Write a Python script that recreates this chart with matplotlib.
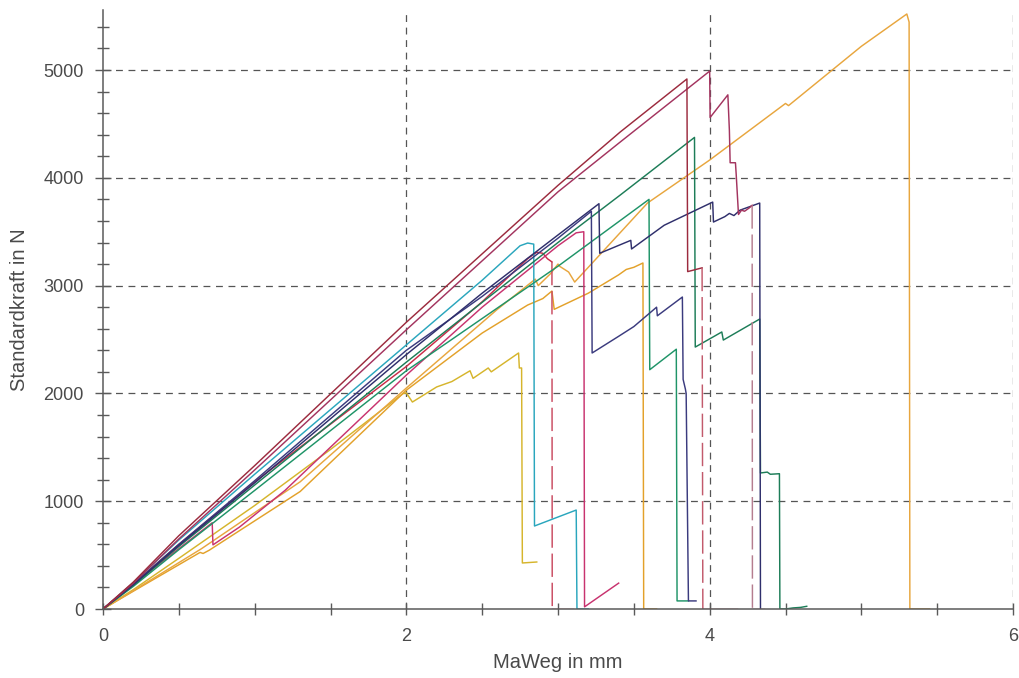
import matplotlib
matplotlib.use("Agg")
import matplotlib.pyplot as plt
from matplotlib.ticker import MultipleLocator

plt.rcParams["font.family"] = ["Liberation Sans", "DejaVu Sans"]

# Kraft-Weg-Kurven der einzelnen Proben: Weg in mm, Kraft in N
a_x = [0, 0.2, 0.5, 1.0, 2.0, 3.0, 3.41, 3.85, 3.855, 3.95]
a_y = [0, 250, 680, 1330, 2660, 3930, 4425, 4917, 3130, 3165]
a_brk_x = [3.95, 3.955]
a_brk_y = [3165, 0]
a_end_x = [3.955, 4.18]
a_end_y = [0, 0]

b_x = [0, 0.2, 0.5, 1.0, 2.0, 3.0, 3.41, 4.0, 4.003, 4.12, 4.13, 4.135, 4.17,
       4.175, 4.19, 4.21, 4.23, 4.26, 4.28]
b_y = [0, 240, 650, 1290, 2590, 3870, 4332, 4990, 4560, 4770, 4440, 4140, 4140,
       4030, 3660, 3700, 3690, 3720, 3745]
b_brk_x = [4.28, 4.282]
b_brk_y = [3745, 0]
b_end_x = [4.282, 4.36]
b_end_y = [0, 0]

c_x = [0, 0.2, 0.5, 1.0, 2.0, 3.0, 3.41, 3.90, 3.905, 4.08, 4.09, 4.33, 4.335,
       4.38, 4.40, 4.46, 4.463, 4.50, 4.55, 4.60, 4.64]
c_y = [0, 220, 580, 1150, 2290, 3400, 3840, 4375, 2430, 2570, 2495, 2690, 1262,
       1270, 1250, 1255, 0, 0, 10, 15, 25]

d_x = [0, 0.2, 0.5, 1.0, 2.0, 3.0, 3.60, 3.605, 3.78, 3.785, 3.86]
d_y = [0, 210, 550, 1100, 2210, 3180, 3800, 2220, 2410, 75, 75]

e_x = [0, 0.2, 0.5, 1.0, 2.0, 2.5, 3.0, 3.22, 3.225, 3.4, 3.5, 3.65, 3.655,
       3.82, 3.825, 3.84, 3.845, 3.86, 3.91]
e_y = [0, 230, 600, 1190, 2400, 2900, 3440, 3690, 2375, 2530, 2620, 2800, 2720,
       2894, 2130, 2040, 2000, 75, 75]

f_x = [0, 0.2, 0.5, 1.0, 2.0, 2.5, 3.0, 3.27, 3.275, 3.48, 3.485, 3.7, 4.02,
       4.025, 4.1, 4.13, 4.16, 4.2, 4.33, 4.335]
f_y = [0, 225, 590, 1170, 2360, 2930, 3470, 3760, 3300, 3420, 3340, 3560, 3775,
       3590, 3640, 3670, 3650, 3700, 3766, 0]

g_x = [0, 0.2, 0.5, 1.0, 2.0, 2.5, 2.75, 2.80, 2.84, 2.845, 3.12, 3.125, 3.2]
g_y = [0, 245, 640, 1250, 2450, 3050, 3370, 3395, 3385, 770, 918, 0, 0]

h_x = [0, 0.2, 0.5, 0.72, 0.725, 0.9, 1.2, 2.0, 2.5, 3.0, 3.12, 3.17, 3.175, 3.40]
h_y = [0, 230, 560, 800, 595, 760, 1100, 2170, 2800, 3370, 3490, 3500, 20, 240]

l_x = [0, 0.2, 0.5, 1.0, 2.0, 2.5, 2.8, 2.86, 2.9, 2.93, 2.96]
l_y = [0, 235, 600, 1180, 2250, 2850, 3250, 3310, 3300, 3250, 3220]
l_brk_x = [2.96, 2.962]
l_brk_y = [3220, 0]
l_end_x = [2.962, 3.1]
l_end_y = [0, 0]

i_x = [0, 0.2, 0.65, 1.3, 2.0, 2.6, 2.85, 2.87, 2.95, 3.0, 3.01, 3.07, 3.09,
       3.11, 3.59, 4.0, 4.5, 4.52, 5.0, 5.30, 5.315, 5.32, 5.45]
i_y = [0, 170, 560, 1180, 2050, 2780, 3060, 3000, 3110, 3200, 3180, 3126, 3080,
       3033, 3766, 4165, 4690, 4670, 5220, 5520, 5445, 0, 0]

j_x = [0, 0.2, 0.64, 0.66, 0.7, 1.3, 2.0, 2.5, 2.8, 2.9, 2.96, 2.975, 3.2, 3.4,
       3.45, 3.5, 3.56, 3.565, 3.65]
j_y = [0, 165, 525, 515, 545, 1090, 2030, 2560, 2820, 2880, 2950, 2780, 2930,
       3100, 3150, 3170, 3210, 0, 0]

k_x = [0, 0.2, 0.5, 1.0, 1.5, 1.98, 2.0, 2.04, 2.2, 2.3, 2.42, 2.44, 2.54, 2.56,
       2.74, 2.745, 2.76, 2.765, 2.86]
k_y = [0, 180, 470, 960, 1480, 2000, 2005, 1920, 2060, 2110, 2210, 2140, 2236,
       2200, 2375, 2236, 2236, 427, 436]

fig = plt.figure(figsize=(10.19, 6.78), dpi=100)
ax = fig.add_axes([103 / 1019, 69 / 678, 910 / 1019, 599 / 678])

lw = 1.05
ax.plot(k_x, k_y, color="#d6b52c", lw=lw)
ax.plot(j_x, j_y, color="#e3a12a", lw=lw)
ax.plot(i_x, i_y, color="#e8a63e", lw=lw)
ax.plot(l_x, l_y, color="#c92c48", lw=lw)
ax.plot(l_end_x, l_end_y, color="#c92c48", lw=lw)
ax.plot(l_brk_x, l_brk_y, color="#c94a60", lw=lw, dashes=(16, 4))
ax.plot(h_x, h_y, color="#c8336f", lw=lw)
ax.plot(g_x, g_y, color="#2aa6bd", lw=lw)
ax.plot(d_x, d_y, color="#1f9468", lw=lw)
ax.plot(c_x, c_y, color="#1d7d58", lw=lw)
ax.plot(e_x, e_y, color="#3b3b7e", lw=lw)
ax.plot(f_x, f_y, color="#2f2f6c", lw=lw)
ax.plot(b_x, b_y, color="#a3345f", lw=lw)
ax.plot(b_end_x, b_end_y, color="#b0566e", lw=lw)
ax.plot(b_brk_x, b_brk_y, color="#b57d8f", lw=lw, dashes=(16, 4))
ax.plot(a_x, a_y, color="#9c2b3e", lw=lw)
ax.plot(a_end_x, a_end_y, color="#b8283c", lw=lw)
ax.plot(a_brk_x, a_brk_y, color="#c25a6c", lw=lw, dashes=(16, 4))

ax.set_xlim(0, 6)
ax.set_ylim(0, 5557)

ax.xaxis.set_major_locator(MultipleLocator(2))
ax.xaxis.set_minor_locator(MultipleLocator(0.5))
ax.yaxis.set_major_locator(MultipleLocator(1000))
ax.yaxis.set_minor_locator(MultipleLocator(200))

grid_kw = dict(color="#555555", lw=0.9, linestyle=(0, (5.5, 4.5)), zorder=0)
for gx in [2, 4, 6]:
    ax.axvline(gx, **grid_kw)
for gy in [1000, 2000, 3000, 4000, 5000]:
    ax.axhline(gy, **grid_kw)

for side in ["top", "right"]:
    ax.spines[side].set_visible(False)
for side in ["left", "bottom"]:
    ax.spines[side].set_color("#5a5a5a")
    ax.spines[side].set_linewidth(1.1)

tick_col = "#5a5a5a"
ax.tick_params(axis="y", which="major", direction="inout", length=11.5, width=1.0,
               color=tick_col, labelcolor="#4a4a4a", labelsize=13, pad=8)
ax.tick_params(axis="y", which="minor", direction="inout", length=8, width=1.0,
               color=tick_col)
ax.tick_params(axis="x", which="both", direction="inout", length=9, width=1.0,
               color=tick_col, labelcolor="#4a4a4a", labelsize=13, pad=9)

ax.set_xlabel("MaWeg in mm", fontsize=14.5, color="#4a4a4a")
ax.set_ylabel("Standardkraft in N", fontsize=14.5, color="#4a4a4a")
ax.xaxis.set_label_coords(0.5, -0.073)
ax.yaxis.set_label_coords(-0.081, 0.5)

fig.savefig("out.png", dpi=100, facecolor="white")
